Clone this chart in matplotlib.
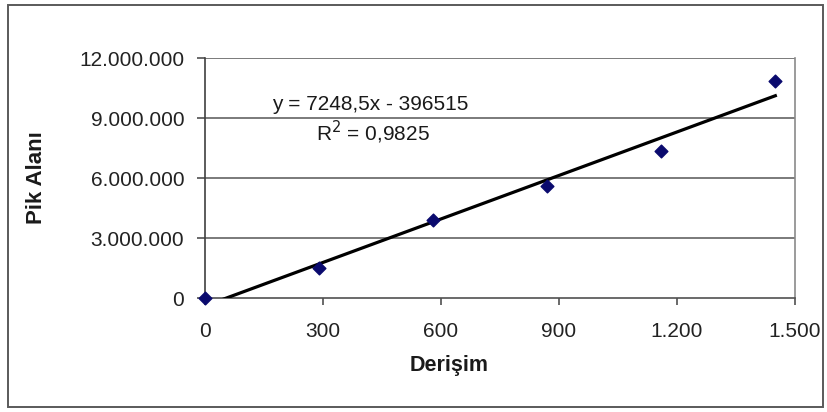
import matplotlib
matplotlib.use("Agg")
import matplotlib.pyplot as plt
from matplotlib.patches import Rectangle
from matplotlib.ticker import FuncFormatter, FixedLocator
import numpy as np

# Data
concentration = [0, 290, 580, 870, 1160, 1450]
peak_area = [0, 1500000, 3900000, 5600000, 7350000, 10850000]
slope = 7248.5
intercept = -396515
r_squared = 0.9825
x_ticks = [0, 300, 600, 900, 1200, 1500]
y_ticks = [0, 3000000, 6000000, 9000000, 12000000]

plt.rcParams['font.family'] = ['Liberation Sans', 'DejaVu Sans']

fig = plt.figure(figsize=(8.27, 4.12), dpi=100)
fig.patch.set_facecolor('white')
fig.patches.append(Rectangle((8/827, 5/412), 815/827, 402/412, transform=fig.transFigure,
                             fill=False, edgecolor='#5a5a5a', linewidth=1.4))

ax = fig.add_axes([205/827, 1-298/412, 590/827, 240/412])
ax.set_xlim(0, 1500)
ax.set_ylim(0, 12000000)

def thousands(v, pos):
    return f"{int(round(v)):,}".replace(",", ".")

ax.xaxis.set_major_locator(FixedLocator(x_ticks))
ax.yaxis.set_major_locator(FixedLocator(y_ticks))
ax.xaxis.set_major_formatter(FuncFormatter(thousands))
ax.yaxis.set_major_formatter(FuncFormatter(thousands))

for v in y_ticks[1:]:
    ax.axhline(v, color='#7a7a7a', linewidth=1.4, zorder=1)

ax.spines['left'].set_color('#404040')
ax.spines['bottom'].set_color('#505050')
ax.spines['right'].set_color('#8a8a8a')
ax.spines['top'].set_visible(False)
for s in ax.spines.values():
    s.set_linewidth(1.2)

ax.tick_params(axis='both', colors='#505050', labelcolor='#222222', labelsize=15, width=1.2)
ax.tick_params(axis='x', length=5, pad=12)
ax.tick_params(axis='y', length=6, pad=9)

xs = np.array([concentration[0], concentration[-1]])
ax.plot(xs, slope * xs + intercept, color='black', linewidth=2.3, zorder=3, clip_on=True)
ax.scatter(concentration, peak_area, marker='D', s=42, color='#0a0a6e', zorder=4, clip_on=False)

ax.set_xlabel('Derişim', fontsize=15.5, fontweight='bold', color='#1a1a1a')
ax.xaxis.set_label_coords((449 - 205) / 590, -(366 - 298) / 240)
ax.xaxis.label.set_va('center')
ax.set_ylabel('Pik Alanı', fontsize=16, fontweight='bold', color='#1a1a1a')
ax.yaxis.set_label_coords(-(205 - 36) / 590, 0.5)
ax.yaxis.label.set_va('center')

ax.text(0.28, 0.808, 'y = 7248,5x - 396515', transform=ax.transAxes, ha='center', va='center',
        fontsize=15, color='#1a1a1a')
ax.text(0.285, 0.688, 'R$^2$ = 0,9825', transform=ax.transAxes, ha='center', va='center',
        fontsize=15, color='#1a1a1a')

fig.savefig('out.png', dpi=100)
